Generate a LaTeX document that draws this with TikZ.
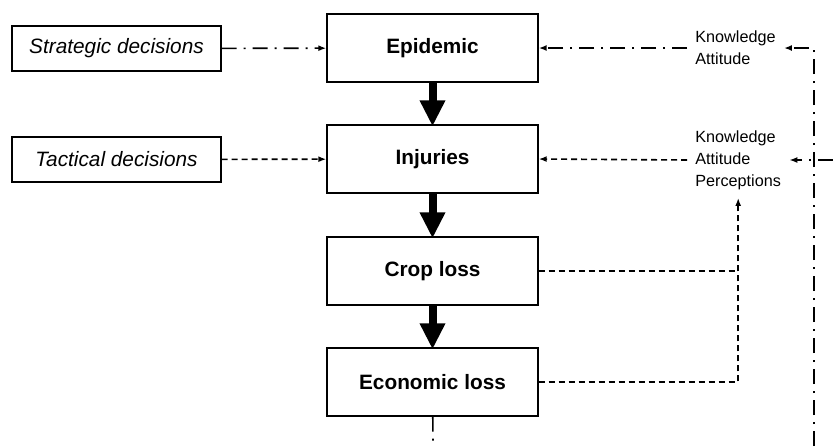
\documentclass[tikz,border=0pt]{standalone}
\usepackage{fontspec}
\setmainfont{Liberation Sans}
\usetikzlibrary{arrows.meta}
\begin{document}
\begin{tikzpicture}
    [%%%%%%%%%%%%%%%%%%%%%%%%%%%%%%
        x=0.5pt, y=-0.5pt,
        stage/.style={rectangle,draw=black,line width=0.7pt, minimum width=105.5pt, minimum height=34pt, font=\fontsize{10.4}{12.5}\selectfont\bfseries},
        choice/.style={rectangle,draw=black,line width=0.7pt, minimum width=104.5pt, minimum height=22.5pt, font=\fontsize{10.4}{12.5}\selectfont\itshape},
        factor/.style={anchor=west, align=left, inner sep=4pt, font=\fontsize{8.1}{11}\selectfont},
        flow/.style={line width=4pt, -{Triangle[width=12pt,length=13pt]}, shorten >=-1pt},
        dshline/.style={line width=0.8pt, dash pattern=on 3pt off 2pt},
        dotline/.style={line width=0.8pt, dash pattern=on 7.5pt off 3.5pt on 1pt off 3.5pt},
        tip/.style={-{Latex[length=4pt,width=3pt]}},
    ]%%%%%%%%%%%%%%%%%%%%%%%%%%%%%%
    \useasboundingbox (0,0) rectangle (833,446);

    \node[choice] (strat) at (116.5,48.5) {Strategic decisions};
    \node[choice] (tact) at (116.5,159.5) {Tactical decisions};

    \node[stage] (epi) at (432.5,48) {Epidemic};
    \node[stage] (inj) at (432.5,159) {Injuries};
    \node[stage] (crop) at (432.5,271) {Crop loss};
    \node[stage] (econ) at (432.5,382) {Economic loss};

    \node[factor] (ka) at (687,48) {Knowledge\\Attitude};
    \node[factor] (kap) at (687,160) {Knowledge\\Attitude\\Perceptions};

    \coordinate (ebot) at (433,446);
    \coordinate (rbot) at (814,446);
    \coordinate (rin) at (833,160);
    \coordinate (jc) at (crop.east -| kap.south);

    \draw[flow] (epi) -- (inj);
    \draw[flow] (inj) -- (crop);
    \draw[flow] (crop) -- (econ);

    \draw[dotline,tip] (strat) -- (epi);
    \draw[dshline,tip] (tact) -- (inj);
    \draw[dotline,tip] (ka) -- (epi);
    \draw[dshline,tip] (kap.west) -- (inj.east);

    \draw[dshline] (crop.east) -- (jc);
    \draw[dshline,tip] (econ.east) -| (kap.south);

    \draw[dotline] (econ) -- (ebot);
    \draw[dotline,tip] (rbot) |- (ka.east);
    \draw[dotline,tip] (rin) -- (kap.east);
\end{tikzpicture}
\end{document}
